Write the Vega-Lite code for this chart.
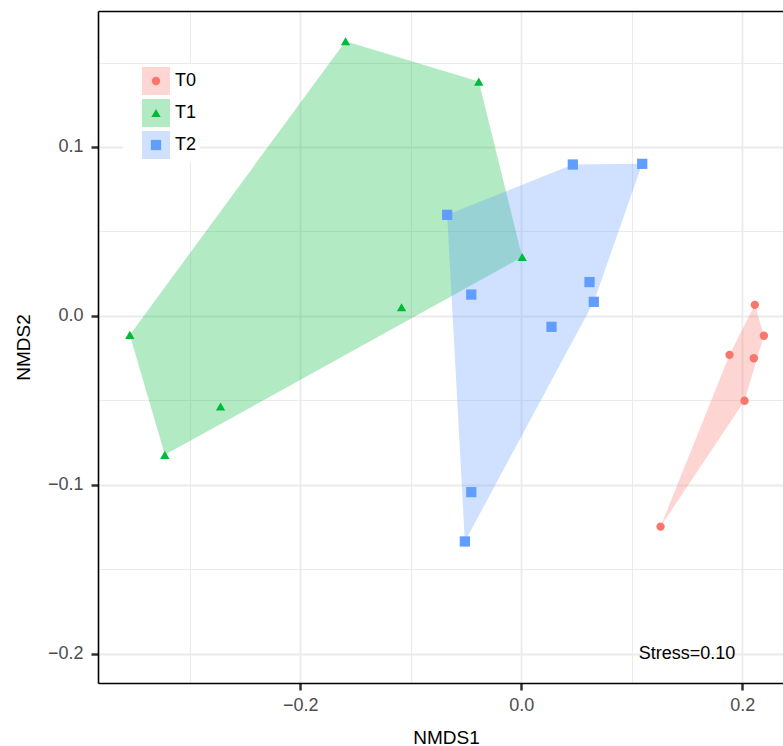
{
  "$schema": "https://vega.github.io/schema/vega-lite/v6.json",
  "autosize": {"type": "none"},
  "padding": {"left": 98, "top": 11, "right": 0, "bottom": 63},
  "width": 685,
  "height": 672,
  "background": "white",
  "config": {
    "view": {"stroke": null},
    "font": "Liberation Sans",
    "axis": {
      "labelFont": "Liberation Sans",
      "labelFontSize": 18,
      "labelColor": "#4d4d4d",
      "titleFont": "Liberation Sans",
      "titleFontSize": 19,
      "titleFontWeight": "normal",
      "titleColor": "black",
      "domainColor": "black",
      "domainWidth": 1.6,
      "tickSize": 7,
      "gridColor": "#ebebeb"
    }
  },
  "datasets": {
    "pts": [
      {"group": "T0", "NMDS1": 0.2114, "NMDS2": 0.0065},
      {"group": "T0", "NMDS1": 0.2196, "NMDS2": -0.0118},
      {"group": "T0", "NMDS1": 0.1885, "NMDS2": -0.0231},
      {"group": "T0", "NMDS1": 0.2105, "NMDS2": -0.0251},
      {"group": "T0", "NMDS1": 0.2021, "NMDS2": -0.0503},
      {"group": "T0", "NMDS1": 0.1261, "NMDS2": -0.1248},
      {"group": "T1", "NMDS1": -0.159, "NMDS2": 0.1626},
      {"group": "T1", "NMDS1": -0.0384, "NMDS2": 0.1387},
      {"group": "T1", "NMDS1": 0.0009, "NMDS2": 0.0348},
      {"group": "T1", "NMDS1": -0.1083, "NMDS2": 0.0051},
      {"group": "T1", "NMDS1": -0.3542, "NMDS2": -0.0113},
      {"group": "T1", "NMDS1": -0.2721, "NMDS2": -0.0537},
      {"group": "T1", "NMDS1": -0.3225, "NMDS2": -0.0823},
      {"group": "T2", "NMDS1": 0.0467, "NMDS2": 0.0896},
      {"group": "T2", "NMDS1": 0.1095, "NMDS2": 0.09},
      {"group": "T2", "NMDS1": -0.067, "NMDS2": 0.0598},
      {"group": "T2", "NMDS1": -0.0452, "NMDS2": 0.0126},
      {"group": "T2", "NMDS1": 0.0618, "NMDS2": 0.02},
      {"group": "T2", "NMDS1": 0.0657, "NMDS2": 0.0083},
      {"group": "T2", "NMDS1": 0.0274, "NMDS2": -0.0065},
      {"group": "T2", "NMDS1": -0.0452, "NMDS2": -0.1044},
      {"group": "T2", "NMDS1": -0.051, "NMDS2": -0.1336}
    ],
    "hull": [
      {"grp": "T0", "ord": 1, "NMDS1": 0.2114, "NMDS2": 0.0065},
      {"grp": "T0", "ord": 2, "NMDS1": 0.2196, "NMDS2": -0.0118},
      {"grp": "T0", "ord": 3, "NMDS1": 0.2021, "NMDS2": -0.0503},
      {"grp": "T0", "ord": 4, "NMDS1": 0.1261, "NMDS2": -0.1248},
      {"grp": "T0", "ord": 5, "NMDS1": 0.1885, "NMDS2": -0.0231},
      {"grp": "T1", "ord": 1, "NMDS1": -0.159, "NMDS2": 0.1626},
      {"grp": "T1", "ord": 2, "NMDS1": -0.0384, "NMDS2": 0.1387},
      {"grp": "T1", "ord": 3, "NMDS1": 0.0009, "NMDS2": 0.0348},
      {"grp": "T1", "ord": 4, "NMDS1": -0.3225, "NMDS2": -0.0823},
      {"grp": "T1", "ord": 5, "NMDS1": -0.3542, "NMDS2": -0.0113},
      {"grp": "T2", "ord": 1, "NMDS1": -0.067, "NMDS2": 0.0598},
      {"grp": "T2", "ord": 2, "NMDS1": 0.0467, "NMDS2": 0.0896},
      {"grp": "T2", "ord": 3, "NMDS1": 0.1095, "NMDS2": 0.09},
      {"grp": "T2", "ord": 4, "NMDS1": 0.0657, "NMDS2": 0.0083},
      {"grp": "T2", "ord": 5, "NMDS1": -0.051, "NMDS2": -0.1336}
    ],
    "note": [
      {"label": "Stress=0.10", "NMDS1": 0.15, "NMDS2": -0.2}
    ]
  },
  "encoding": {
    "y": {
      "field": "NMDS2",
      "type": "quantitative",
      "scale": {"domain": [-0.2174, 0.1805], "nice": false, "zero": false},
      "axis": {
        "title": "NMDS2",
        "values": [-0.2, -0.15, -0.1, -0.05, 0, 0.05, 0.1, 0.15],
        "format": ".1f",
        "labelExpr": "abs(datum.value * 10 - round(datum.value * 10)) < 0.001 ? datum.label : ''",
        "tickColor": {"condition": {"test": "abs(datum.value * 10 - round(datum.value * 10)) < 0.001", "value": "#333333"}, "value": "transparent"},
        "tickWidth": 2.5,
        "gridWidth": {"condition": {"test": "abs(datum.value * 10 - round(datum.value * 10)) < 0.001", "value": 1.8}, "value": 1},
        "labelPadding": 8,
        "titleAngle": -90,
        "titleX": -69,
        "titleY": 336,
        "titleAlign": "center",
        "titleBaseline": "alphabetic"
      }
    }
  },
  "layer": [
    {
      "data": {"name": "hull"},
      "mark": {"type": "line", "strokeWidth": 0, "strokeOpacity": 0, "fillOpacity": 0.3},
      "encoding": {
        "x": {
          "field": "NMDS1",
          "type": "quantitative",
          "scale": {"domain": [-0.383, 0.2369], "nice": false, "zero": false},
          "axis": {
            "title": "NMDS1",
            "values": [-0.3, -0.2, -0.1, 0, 0.1, 0.2],
            "format": ".1f",
            "labelExpr": "abs(datum.value * 10 - round(datum.value * 10)) < 0.001 && round(datum.value * 10) % 2 == 0 ? datum.label : ''",
            "tickColor": {"condition": {"test": "round(datum.value * 10) % 2 == 0", "value": "#333333"}, "value": "transparent"},
            "tickWidth": 2.5,
            "gridWidth": {"condition": {"test": "round(datum.value * 10) % 2 == 0", "value": 1.8}, "value": 1},
            "labelPadding": 6,
            "titleX": 348,
            "titleY": 60,
            "titleAlign": "center",
            "titleBaseline": "alphabetic"
          }
        },
        "order": {"field": "ord", "type": "quantitative"},
        "fill": {
          "field": "grp",
          "type": "nominal",
          "scale": {"range": ["#F8766D", "#00BA38", "#619CFF"]},
          "legend": {
            "orient": "none",
            "legendX": 25,
            "legendY": 53,
            "title": null,
            "symbolType": "square",
            "symbolSize": 784,
            "symbolOpacity": 0.3,
            "symbolStrokeWidth": 0,
            "symbolOffset": 16,
            "labelFont": "Liberation Sans",
            "labelFontSize": 18,
            "labelColor": "black",
            "labelOffset": 5,
            "labelExpr": "datum.label + '\u00a0\u00a0\u00a0'",
            "rowPadding": 4,
            "padding": 3,
            "fillColor": "white"
          }
        }
      }
    },
    {
      "data": {"name": "pts"},
      "mark": {"type": "point", "filled": true, "opacity": 1},
      "encoding": {
        "x": {
          "field": "NMDS1",
          "type": "quantitative",
          "scale": {"domain": [-0.383, 0.2369], "nice": false, "zero": false},
          "axis": null
        },
        "size": {
          "field": "group",
          "type": "nominal",
          "scale": {"domain": ["T0", "T1", "T2"], "range": [70, 105, 70]},
          "legend": null
        },
        "color": {
          "field": "group",
          "type": "nominal",
          "scale": {"domain": ["T0", "T1", "T2"], "range": ["#F8766D", "#00BA38", "#619CFF"]},
          "legend": {
            "orient": "none",
            "legendX": 25,
            "legendY": 53,
            "title": null,
            "symbolSize": 80,
            "symbolStrokeWidth": 0,
            "symbolOffset": 16,
            "labelFontSize": 28,
            "labelExpr": "''",
            "labelColor": "transparent",
            "rowPadding": 4,
            "padding": 3
          }
        },
        "shape": {
          "field": "group",
          "type": "nominal",
          "scale": {"domain": ["T0", "T1", "T2"], "range": ["circle", "triangle-up", "square"]},
          "legend": {
            "orient": "none",
            "legendX": 25,
            "legendY": 53,
            "title": null,
            "symbolSize": 80,
            "symbolStrokeWidth": 0,
            "symbolOffset": 16,
            "labelFontSize": 28,
            "labelExpr": "''",
            "labelColor": "transparent",
            "rowPadding": 4,
            "padding": 3
          }
        }
      }
    },
    {
      "data": {"name": "note"},
      "mark": {"type": "text", "font": "Liberation Sans", "fontSize": 18, "color": "black", "align": "center", "baseline": "middle"},
      "encoding": {
        "x": {
          "field": "NMDS1",
          "type": "quantitative",
          "scale": {"domain": [-0.383, 0.2369], "nice": false, "zero": false},
          "axis": {"orient": "top", "title": null, "labels": false, "ticks": false, "grid": false, "domain": true, "domainColor": "black", "domainWidth": 1.6}
        },
        "text": {"field": "label"}
      }
    }
  ],
  "resolve": {"scale": {"x": "independent"}}
}
